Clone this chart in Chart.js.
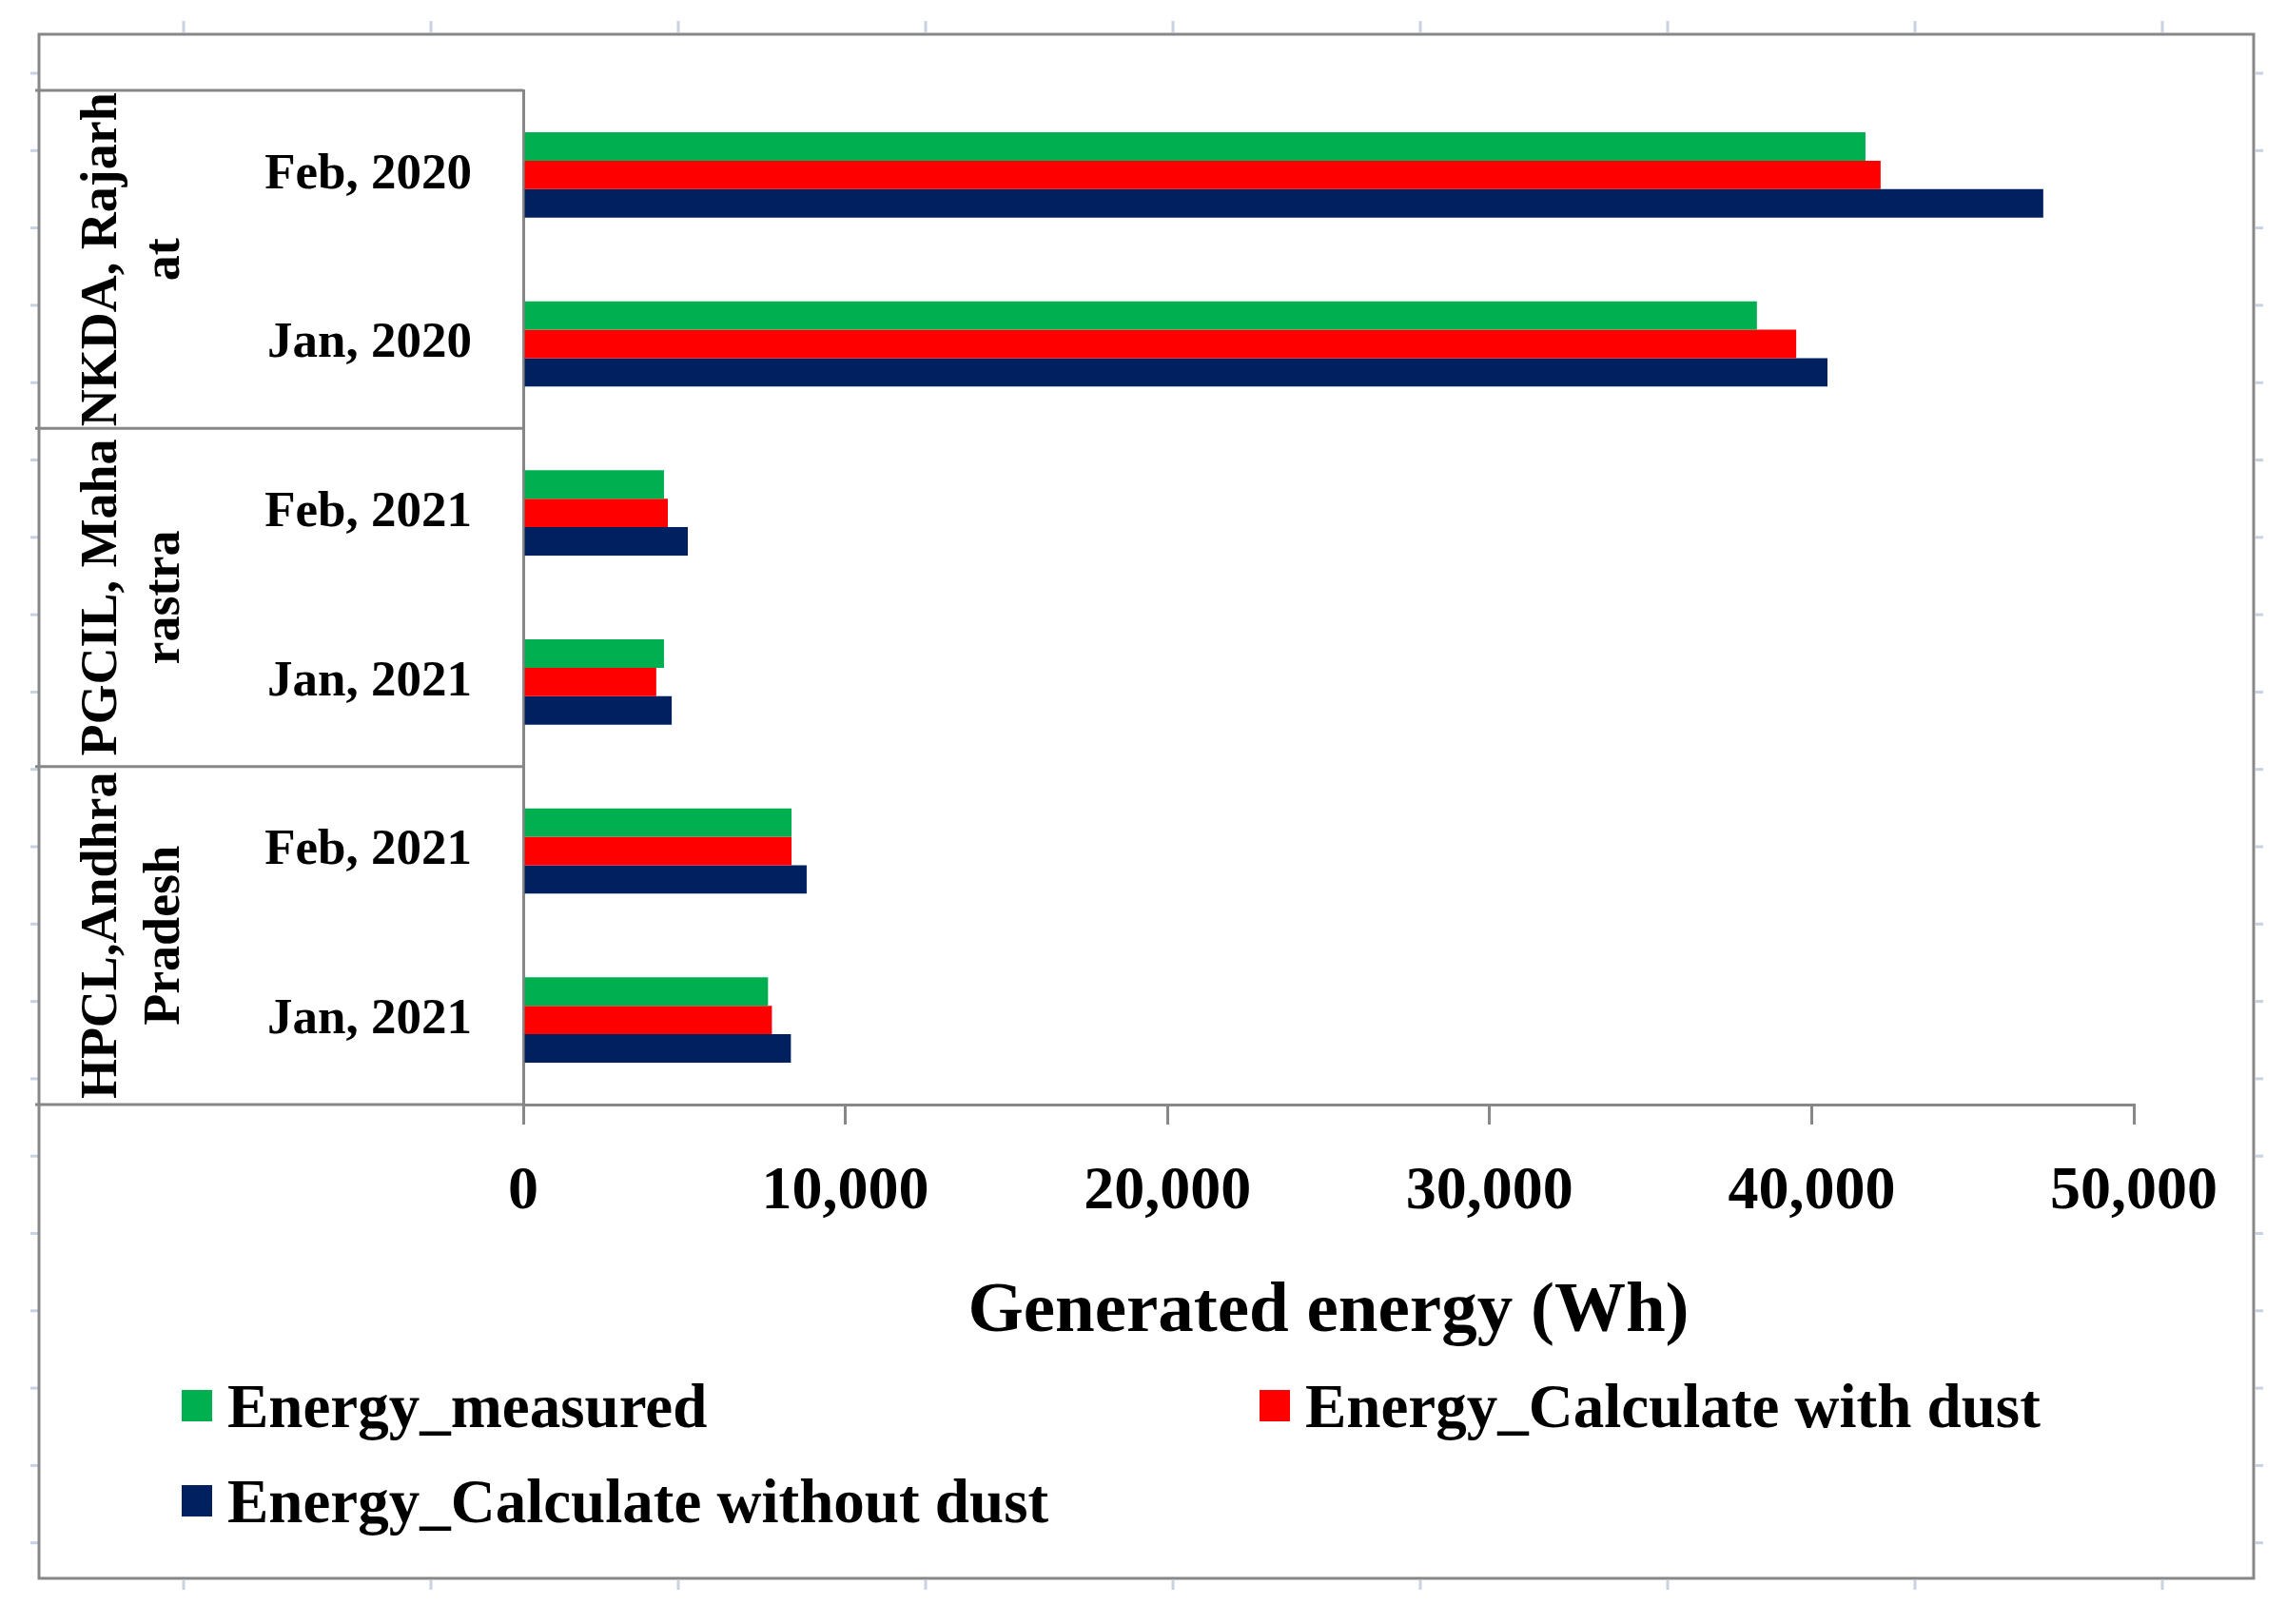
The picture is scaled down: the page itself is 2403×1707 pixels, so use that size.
<!DOCTYPE html>
<html>
<head>
<meta charset="utf-8">
<script src="https://cdn.jsdelivr.net/npm/chart.js@4/dist/chart.umd.min.js"></script>
<style>
  html, body { margin: 0; padding: 0; background: #fff; overflow: hidden; }
  canvas { display: block; }
</style>
</head>
<body>
<canvas id="chart" width="2403" height="1707"></canvas>
<script>
// Categories, top to bottom
const months = ["Feb, 2020", "Jan, 2020", "Feb, 2021", "Jan, 2021", "Feb, 2021", "Jan, 2021"];
// Outer category level (wrapped like the original) and how many months each covers
const sites = [["NKDA, Rajarh", "at"], ["PGCIL, Maha", "rastra"], ["HPCL,Andhra", "Pradesh"]];
const siteSizes = [2, 2, 2];

// Generated energy (Wh)
const energyMeasured = [41670, 38300, 4370, 4370, 8330, 7600];
const energyWithDust = [42140, 39520, 4490, 4130, 8330, 7720];
const energyWithoutDust = [47190, 40490, 5110, 4610, 8800, 8310];

const seriesNames = ["Energy_measured", "Energy_Calculate with dust", "Energy_Calculate without dust"];
const seriesColors = ["#00B050", "#FF0000", "#002060"];

const xMin = 0;
const xMax = 50000;
const xStep = 10000;

const FONT = "'Liberation Serif', 'Times New Roman', serif";
const GRAY = "#878787";

// Frame, category box and outer category labels
const framePlugin = {
  id: "frame",
  beforeDraw(chart) {
    const ctx = chart.ctx;
    ctx.save();
    ctx.fillStyle = "#fff";
    ctx.fillRect(0, 0, chart.width, chart.height);
    ctx.restore();
  },
  afterDraw(chart) {
    const { ctx, chartArea, scales } = chart;
    const y = scales.y;
    ctx.save();

    // faint sheet gridline stubs around the frame
    ctx.strokeStyle = "#c9d2e3";
    ctx.lineWidth = 3;
    for (let gx = 193; gx < 2369; gx += 260) {
      ctx.beginPath(); ctx.moveTo(gx, 22); ctx.lineTo(gx, 34); ctx.stroke();
      ctx.beginPath(); ctx.moveTo(gx, 1661); ctx.lineTo(gx, 1671); ctx.stroke();
    }
    for (let gy = 77; gy < 1659; gy += 81.3) {
      ctx.beginPath(); ctx.moveTo(32, gy); ctx.lineTo(40, gy); ctx.stroke();
      ctx.beginPath(); ctx.moveTo(2371, gy); ctx.lineTo(2379, gy); ctx.stroke();
    }

    // outer frame
    ctx.strokeStyle = GRAY;
    ctx.lineWidth = 3;
    ctx.strokeRect(41, 36, 2369 - 41, 1659 - 36);

    // category box: top edge, axis extension, site separators
    const half = (y.getPixelForValue(1) - y.getPixelForValue(0)) / 2;
    const hLine = (py) => {
      ctx.beginPath();
      ctx.moveTo(37, py);
      ctx.lineTo(chartArea.left, py);
      ctx.stroke();
    };
    hLine(chartArea.top);
    hLine(chartArea.bottom);

    let idx = 0;
    sites.forEach((lines, i) => {
      const first = idx;
      const last = idx + siteSizes[i] - 1;
      idx += siteSizes[i];
      if (i < sites.length - 1) hLine(y.getPixelForValue(last) + half);

      // rotated site name, centred on its months
      const cy = (y.getPixelForValue(first) + y.getPixelForValue(last)) / 2;
      ctx.fillStyle = "#000";
      ctx.font = "bold 54px " + FONT;
      ctx.textAlign = "center";
      ctx.textBaseline = "alphabetic";
      lines.forEach((line, j) => {
        ctx.save();
        ctx.translate(122 + j * 66, cy);
        ctx.rotate(-Math.PI / 2);
        ctx.fillText(line, 0, 0);
        ctx.restore();
      });
    });

    ctx.restore();
  },
};

// Two-column legend like the Excel one
const legendPlugin = {
  id: "sheetLegend",
  afterDraw(chart) {
    const ctx = chart.ctx;
    const slots = [
      { x: 191, y: 1461 },
      { x: 1324, y: 1461 },
      { x: 191, y: 1561 },
    ];
    ctx.save();
    ctx.font = "bold 65px " + FONT;
    ctx.textAlign = "left";
    ctx.textBaseline = "alphabetic";
    chart.data.datasets.forEach((ds, i) => {
      const s = slots[i];
      ctx.fillStyle = ds.backgroundColor;
      ctx.fillRect(s.x, s.y, 32, 33);
      ctx.fillStyle = "#000";
      ctx.fillText(ds.label, s.x + 48, s.y + 39);
    });
    ctx.restore();
  },
};

const ctx = document.getElementById("chart").getContext("2d");
new Chart(ctx, {
  type: "bar",
  data: {
    labels: months,
    datasets: [
      { label: seriesNames[0], data: energyMeasured, backgroundColor: seriesColors[0] },
      { label: seriesNames[1], data: energyWithDust, backgroundColor: seriesColors[1] },
      { label: seriesNames[2], data: energyWithoutDust, backgroundColor: seriesColors[2] },
    ],
  },
  options: {
    indexAxis: "y",
    responsive: false,
    devicePixelRatio: 1,
    animation: false,
    datasets: {
      bar: { barPercentage: 1, categoryPercentage: 0.505, borderWidth: 0 },
    },
    layout: { padding: { left: 41, right: 160, top: 95, bottom: 281 } },
    plugins: {
      legend: { display: false },
      tooltip: { enabled: false },
    },
    scales: {
      x: {
        min: xMin,
        max: xMax,
        ticks: {
          stepSize: xStep,
          color: "#000",
          font: { family: FONT, size: 64, weight: "bold" },
          padding: 33,
          maxRotation: 0,
          callback: (v) => Number(v).toLocaleString("en-US"),
        },
        grid: {
          drawOnChartArea: false,
          drawTicks: true,
          tickLength: 21,
          tickWidth: 3,
          tickColor: GRAY,
          color: GRAY,
          lineWidth: 3,
        },
        border: { display: true, color: GRAY, width: 3 },
        title: {
          display: true,
          text: "Generated energy (Wh)",
          color: "#000",
          font: { family: FONT, size: 75, weight: "bold" },
          padding: { top: 0, bottom: 1 },
        },
        afterFit: (scale) => { scale.height = 265; },
      },
      y: {
        ticks: {
          color: "#000",
          font: { family: FONT, size: 53, weight: "bold" },
          padding: 54,
        },
        grid: { display: false, drawTicks: false },
        border: { display: true, color: GRAY, width: 3 },
        afterFit: (scale) => { scale.width = 509; },
      },
    },
  },
  plugins: [framePlugin, legendPlugin],
});
</script>
</body>
</html>
